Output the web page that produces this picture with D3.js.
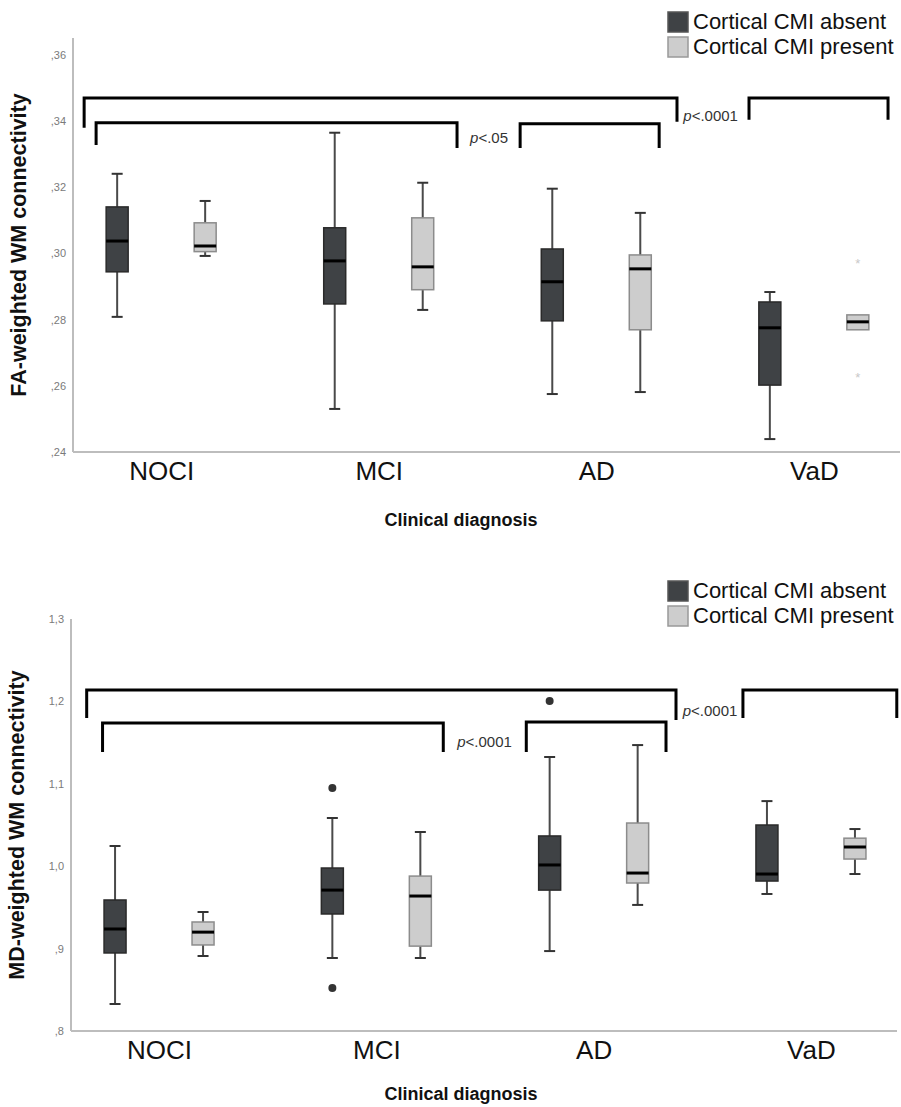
<!DOCTYPE html>
<html>
<head>
<meta charset="utf-8">
<script src="https://cdn.jsdelivr.net/npm/d3@7"></script>
<style>
  body { margin: 0; background: #fff; }
  svg { display: block; font-family: "Liberation Sans", Arial, sans-serif; }
</style>
</head>
<body>
<svg id="chart" width="901" height="1107"></svg>
<script>
// --- data ---
const categories = ["NOCI", "MCI", "AD", "VaD"];
const groups = ["Cortical CMI absent", "Cortical CMI present"];

// [whisker low, q1, median, q3, whisker high]
const faAbsent  = [[0.2808, 0.2944, 0.3037, 0.3140, 0.3240],
                   [0.2530, 0.2847, 0.2977, 0.3077, 0.3364],
                   [0.2575, 0.2796, 0.2914, 0.3013, 0.3195],
                   [0.2439, 0.2602, 0.2775, 0.2853, 0.2883]];
const faPresent = [[0.2992, 0.3005, 0.3022, 0.3092, 0.3158],
                   [0.2829, 0.2890, 0.2959, 0.3107, 0.3213],
                   [0.2581, 0.2769, 0.2953, 0.2995, 0.3122],
                   [0.2769, 0.2769, 0.2793, 0.2814, 0.2814]];
const faExtremes = [{ cat: "VaD", grp: 1, v: 0.2971 }, { cat: "VaD", grp: 1, v: 0.2627 }];
const faTicks = [0.24, 0.26, 0.28, 0.30, 0.32, 0.34, 0.36];
const faTickLabels = [",24", ",26", ",28", ",30", ",32", ",34", ",36"];

const mdAbsent  = [[0.8328, 0.8947, 0.9238, 0.9590, 1.0245],
                   [0.8886, 0.9420, 0.9710, 0.9978, 1.0585],
                   [0.8970, 0.9710, 1.0015, 1.0367, 1.1325],
                   [0.9663, 0.9820, 0.9905, 1.0500, 1.0790]];
const mdPresent = [[0.8910, 0.9044, 0.9200, 0.9323, 0.9444],
                   [0.8886, 0.9030, 0.9638, 0.9880, 1.0415],
                   [0.9530, 0.9796, 0.9917, 1.0524, 1.1470],
                   [0.9905, 1.0087, 1.0233, 1.0340, 1.0451]];
const mdOutliers = [{ cat: "MCI", grp: 0, v: 1.095 }, { cat: "MCI", grp: 0, v: 0.8522 },
                    { cat: "AD", grp: 0, v: 1.2005 }];
const mdTicks = [0.8, 0.9, 1.0, 1.1, 1.2, 1.3];
const mdTickLabels = [",8", ",9", "1,0", "1,1", "1,2", "1,3"];

// significance brackets: x in category-index units, y in data units
const faBrackets = [
  { x1: -0.354, x2: 2.371, top: 0.3469, end1: 0.3379, end2: 0.3397 },
  { x1: 2.702, x2: 3.341, top: 0.3469, end1: 0.3403, end2: 0.3403 },
  { x1: -0.299, x2: 1.360, top: 0.3394, end1: 0.3327, end2: 0.3318 },
  { x1: 1.650, x2: 2.289, top: 0.3391, end1: 0.3318, end2: 0.3318 }
];
const faPLabels = [{ x: 2.40, y: 0.3398, p: "<.0001" }, { x: 1.42, y: 0.3334, p: "<.05" }];
const mdBrackets = [
  { x1: -0.333, x2: 2.379, top: 1.2138, end1: 1.1799, end2: 1.1774 },
  { x1: 2.687, x2: 3.395, top: 1.2138, end1: 1.1799, end2: 1.1799 },
  { x1: -0.260, x2: 1.308, top: 1.1738, end1: 1.1386, end2: 1.1386 },
  { x1: 1.690, x2: 2.333, top: 1.1750, end1: 1.1386, end2: 1.1386 }
];
const mdPLabels = [{ x: 2.41, y: 1.1820, p: "<.0001" }, { x: 1.372, y: 1.1447, p: "<.0001" }];

const fills = ["#3f4245", "#cdcdcd"];
const strokes = ["#2a2a2a", "#8c8c8c"];

const svg = d3.select("#chart");

function drawPanel(cfg) {
  const g = svg.append("g");
  const x = d3.scalePoint().domain(categories).range([cfg.left + 2, cfg.right]).padding(0.396);
  const xi = d3.scaleLinear().domain([0, 3]).range([x(categories[0]), x(categories[3])]);
  const y = d3.scaleLinear().domain(cfg.domain).range([cfg.bottom, cfg.top]);
  const off = [-44, 44], bw = 22, cap = 11;

  // axes
  g.append("line").attr("x1", cfg.left).attr("x2", cfg.left)
    .attr("y1", cfg.top).attr("y2", cfg.bottom).attr("stroke", "#bdbdbd").attr("stroke-width", 2);
  g.append("line").attr("x1", cfg.left).attr("x2", cfg.right)
    .attr("y1", cfg.bottom).attr("y2", cfg.bottom).attr("stroke", "#bdbdbd").attr("stroke-width", 2);

  const ya = d3.axisLeft(y).tickValues(cfg.ticks).tickFormat((d, i) => cfg.tickLabels[i]).tickSize(0).tickPadding(7);
  const yg = g.append("g").attr("transform", `translate(${cfg.left},0)`).call(ya);
  yg.select(".domain").remove();
  yg.selectAll("text").attr("fill", "#7a7a7a").style("font-size", "11px");

  const xa = d3.axisBottom(x).tickSize(0).tickPadding(10);
  const xg = g.append("g").attr("transform", `translate(0,${cfg.bottom})`).call(xa);
  xg.select(".domain").remove();
  xg.selectAll("text").attr("fill", "#111").style("font-size", "26px");

  // titles
  g.append("text").attr("transform", `translate(${cfg.left - 47},${(cfg.top + cfg.bottom) / 2}) rotate(-90)`)
    .attr("text-anchor", "middle").attr("font-weight", "bold").attr("font-size", 21.5).attr("fill", "#111")
    .text(cfg.yTitle);
  g.append("text").attr("x", 461).attr("y", cfg.xTitleY)
    .attr("text-anchor", "middle").attr("font-weight", "bold").attr("font-size", 18).attr("fill", "#111")
    .text("Clinical diagnosis");

  // boxes
  [cfg.absent, cfg.present].forEach((series, gi) => {
    series.forEach((s, ci) => {
      const cx = x(categories[ci]) + off[gi];
      const bg = g.append("g");
      if (s[4] > s[3]) {
        bg.append("line").attr("x1", cx).attr("x2", cx).attr("y1", y(s[4])).attr("y2", y(s[3]))
          .attr("stroke", "#4a4a4a").attr("stroke-width", 2);
        bg.append("line").attr("x1", cx - cap / 2).attr("x2", cx + cap / 2).attr("y1", y(s[4])).attr("y2", y(s[4]))
          .attr("stroke", "#333").attr("stroke-width", 2);
      }
      if (s[0] < s[1]) {
        bg.append("line").attr("x1", cx).attr("x2", cx).attr("y1", y(s[1])).attr("y2", y(s[0]))
          .attr("stroke", "#4a4a4a").attr("stroke-width", 2);
        bg.append("line").attr("x1", cx - cap / 2).attr("x2", cx + cap / 2).attr("y1", y(s[0])).attr("y2", y(s[0]))
          .attr("stroke", "#333").attr("stroke-width", 2);
      }
      bg.append("rect").attr("x", cx - bw / 2).attr("width", bw)
        .attr("y", y(s[3])).attr("height", y(s[1]) - y(s[3]))
        .attr("fill", fills[gi]).attr("stroke", strokes[gi]).attr("stroke-width", 1.5);
      bg.append("line").attr("x1", cx - bw / 2).attr("x2", cx + bw / 2).attr("y1", y(s[2])).attr("y2", y(s[2]))
        .attr("stroke", "#000").attr("stroke-width", 3);
    });
  });

  // outliers
  g.selectAll(".out").data(cfg.outliers).enter().append("circle")
    .attr("cx", d => x(d.cat) + off[d.grp]).attr("cy", d => y(d.v)).attr("r", 4)
    .attr("fill", "#333");
  g.selectAll(".ext").data(cfg.extremes).enter().append("text")
    .attr("x", d => x(d.cat) + off[d.grp]).attr("y", d => y(d.v) + 5)
    .attr("text-anchor", "middle").attr("font-size", 13).attr("fill", "#c8c8c8").text("*");

  // brackets
  g.selectAll(".br").data(cfg.brackets).enter().append("path")
    .attr("d", d => `M${xi(d.x1)},${y(d.end1)}V${y(d.top)}H${xi(d.x2)}V${y(d.end2)}`)
    .attr("fill", "none").attr("stroke", "#000").attr("stroke-width", 3);
  const pl = g.selectAll(".pl").data(cfg.pLabels).enter().append("text")
    .attr("x", d => xi(d.x)).attr("y", d => y(d.y))
    .attr("font-size", 15).attr("fill", "#333");
  pl.append("tspan").attr("font-style", "italic").text("p");
  pl.append("tspan").text(d => d.p);

  // legend
  groups.forEach((name, i) => {
    const ly = cfg.legendY + i * 25;
    g.append("rect").attr("x", 668).attr("y", ly).attr("width", 20).attr("height", 20)
      .attr("fill", fills[i]).attr("stroke", i ? "#999" : "#555").attr("stroke-width", 1.5);
    g.append("text").attr("x", 693).attr("y", ly + 17).attr("font-size", 22).attr("fill", "#111").text(name);
  });
}

drawPanel({
  left: 73, right: 900, top: 38, bottom: 452, domain: [0.24, 0.365],
  ticks: faTicks, tickLabels: faTickLabels, yTitle: "FA-weighted WM connectivity",
  absent: faAbsent, present: faPresent, outliers: [], extremes: faExtremes,
  brackets: faBrackets, pLabels: faPLabels, legendY: 12, xTitleY: 526
});
drawPanel({
  left: 71, right: 897, top: 619, bottom: 1031, domain: [0.8, 1.3],
  ticks: mdTicks, tickLabels: mdTickLabels, yTitle: "MD-weighted WM connectivity",
  absent: mdAbsent, present: mdPresent, outliers: mdOutliers, extremes: [],
  brackets: mdBrackets, pLabels: mdPLabels, legendY: 581, xTitleY: 1100
});
</script>
</body>
</html>
